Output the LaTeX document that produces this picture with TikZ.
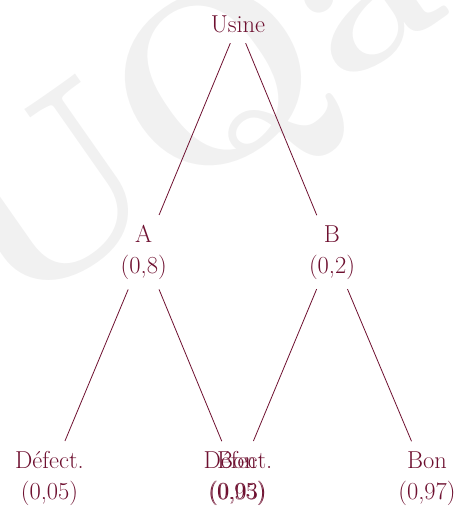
\documentclass[tikz,border=0pt]{standalone}
\usepackage{fontspec}
\definecolor{bord}{RGB}{110,16,48}
\definecolor{wm}{RGB}{241,241,241}
\begin{document}
\begin{tikzpicture}[x=1pt,y=-1pt,
  lab/.style={text=bord, font=\fontsize{24.5}{31}\selectfont, align=center, inner sep=0pt, outer sep=10pt},
  br/.style={draw=bord, line width=0.8pt}]
\useasboundingbox (0,0) rectangle (456,507);
\node[text=wm, font=\fontsize{240}{240}\selectfont\bfseries, rotate=35, inner sep=0pt] (wmk) at (195,118) {UQa};
\node[lab] (u) at (238,24.6) {Usine};
\node[lab] (a) at (143.7,252.2) {A\\(0,8)};
\node[lab] (b) at (332,252.2) {B\\(0,2)};
\node[lab] (ad) at (49.5,478.2) {Défect.\\(0,05)};
\node[lab] (ab) at (237,478.2) {Bon\\(0,95)};
\node[lab] (bd) at (238,478.2) {Défect.\\(0,03)};
\node[lab] (bb) at (427,478.2) {Bon\\(0,97)};
\draw[br] (u) -- (a);
\draw[br] (u) -- (b);
\draw[br] (a) -- (ad);
\draw[br] (a) -- (ab);
\draw[br] (b) -- (bd);
\draw[br] (b) -- (bb);
\end{tikzpicture}
\end{document}
